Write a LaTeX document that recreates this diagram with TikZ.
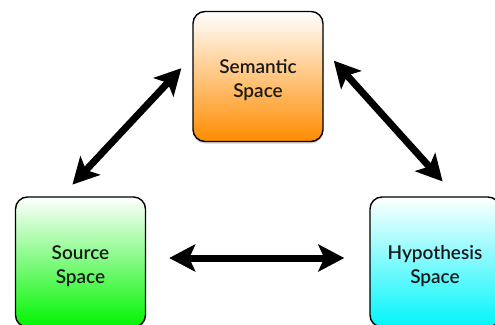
\documentclass[tikz,border=0pt]{standalone}
\usepackage{fontspec}
\setmainfont{Lato}
\newfontfamily\spacefont{Lato Semibold}
\usepackage{tikz}
\usetikzlibrary{arrows.meta,shadows}

\newcommand{\lowerline}{\rule{0pt}{22pt}}

\tikzset{
  space/.style={draw=black, line width=1.4pt, rounded corners=12pt,
    minimum width=130pt, minimum height=130pt, inner sep=0pt,
    align=center, font=\spacefont\fontsize{19}{24}\selectfont, text=black!90,
    drop shadow={opacity=0.35, shadow xshift=0pt, shadow yshift=-2pt}},
  spacefill/.style={top color=white, middle color=#1!55!white, bottom color=#1},
  link/.style={{Stealth[length=26pt,width=27pt,inset=6pt]}-{Stealth[length=26pt,width=27pt,inset=6pt]},
    line width=7pt},
}

\begin{document}
\begin{tikzpicture}[x=1pt,y=-1pt]
  \useasboundingbox (0,0) rectangle (495,324);
  \clip (0,0) rectangle (495,324);
  \definecolor{semorange}{RGB}{255,140,0}
  \definecolor{srcgreen}{RGB}{0,245,0}
  \definecolor{hypcyan}{RGB}{0,245,250}
  \coordinate (S) at (258,76.5);
  \coordinate (L) at (80.5,262);
  \coordinate (R) at (435,262);
  \node[space, spacefill=semorange] (sem) at (S) {\lowerline Semantic\\Space};
  \node[space, spacefill=srcgreen] (src) at (L) {\lowerline Source\\Space};
  \node[space, spacefill=hypcyan] (hyp) at (R) {\lowerline Hypothesis\\Space};
  % double arrows between the spaces
  \draw[link, shorten <=16pt, shorten >=16pt] ([xshift=-19pt]src.north) -- ([yshift=20pt]sem.west);
  \draw[link, shorten <=15pt, shorten >=20pt] ([yshift=27pt]sem.east) -- ([xshift=21pt]hyp.north);
  \draw[link, shorten <=23pt, shorten >=25pt] ([yshift=4pt]src.east) -- ([yshift=4pt]hyp.west);
\end{tikzpicture}
\end{document}
